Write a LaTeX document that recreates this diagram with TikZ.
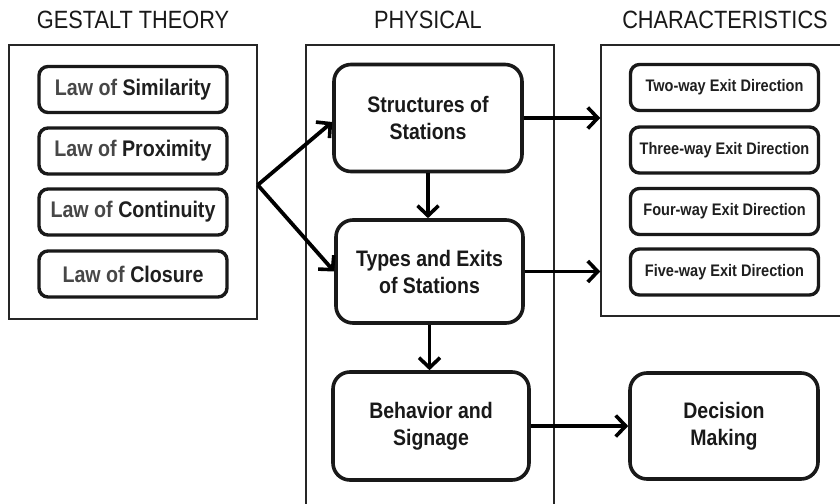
\documentclass[tikz,border=0pt]{standalone}
\usepackage{fontspec}
\setmainfont{Liberation Sans}[FakeStretch=0.87]
\usetikzlibrary{arrows.meta}
\tikzset{
  frame/.style={draw=black!85, line width=1.5pt, inner sep=0pt, fill=none},
  lawbox/.style={draw=black!90, line width=3.4pt, rounded corners=9pt, minimum width=188pt, minimum height=46pt, inner sep=0pt,
    font=\fontsize{22.6}{26}\selectfont\bfseries, text=black!88},
  charbox/.style={lawbox, font=\fontsize{16.7}{19}\selectfont\bfseries},
  bigbox/.style={draw=black!90, line width=3.6pt, rounded corners=17pt, minimum width=188pt, minimum height=107pt, inner sep=0pt,
    align=center, font=\fontsize{22.4}{27}\selectfont\bfseries, text=black!90},
  title/.style={font=\fontsize{25}{29}\selectfont, text=black!90, inner sep=0pt},
  arr/.style={line width=3.8pt, -{Straight Barb[length=10pt,width=21pt,line width=3.6pt]}},
}
\begin{document}
\begin{tikzpicture}[x=1pt,y=-1pt]
\useasboundingbox (0,0) rectangle (840,503);
\clip (0,0) rectangle (840,503);
\fill[white] (0,0) rectangle (840,503);
% titles
\node[title] (t1) at (133,20) {GESTALT THEORY};
\node[title] (t2) at (428,20) {PHYSICAL};
\node[title] (t3) at (725,20) {CHARACTERISTICS};
% frames
\node[frame, minimum width=248pt, minimum height=274pt] (gframe) at (133,182) {};
\node[frame, minimum width=248pt, minimum height=480pt] (pframe) at (430,285) {};
\node[frame, minimum width=260pt, minimum height=271pt] (cframe) at (731,180.5) {};
% gestalt laws
\node[lawbox] (l1) at (133,89.5) {\textcolor{black!72}{Law of} Similarity};
\node[lawbox] (l2) at (133,151) {\textcolor{black!72}{Law of} Proximity};
\node[lawbox] (l3) at (133,212) {\textcolor{black!72}{Law of} Continuity};
\node[lawbox] (l4) at (133,274) {\textcolor{black!72}{Law of} Closure};
% physical
\node[bigbox] (s) at (428,118) {Structures of\\Stations};
\node[bigbox, minimum width=187pt, minimum height=103pt] (ty) at (429.5,271.5) {Types and Exits\\of Stations};
\node[bigbox, minimum width=196pt, minimum height=108pt] (b) at (431,426) {Behavior and\\Signage};
% characteristics
\node[charbox] (c1) at (724.5,87.5) {Two-way Exit Direction};
\node[charbox] (c2) at (724.5,150) {Three-way Exit Direction};
\node[charbox] (c3) at (724.5,211.5) {Four-way Exit Direction};
\node[charbox] (c4) at (724.5,272) {Five-way Exit Direction};
% decision
\node[bigbox, minimum height=106pt] (d) at (724,426) {Decision\\Making};
% connectors
\coordinate (fork) at (gframe.east |- 0,185);
\draw[arr] (fork) -- ([yshift=-4pt]s.west);
\draw[arr] (fork) -- (ty.west);
\draw[arr] (s.south) -- (s.south |- ty.north);
\draw[arr] (ty.south) -- (ty.south |- b.north);
\draw[arr] (s.east) -- (s.east -| cframe.west);
\draw[arr] (ty.east) -- (ty.east -| cframe.west);
\draw[arr] (b.east) -- (d.west);
\end{tikzpicture}
\end{document}
